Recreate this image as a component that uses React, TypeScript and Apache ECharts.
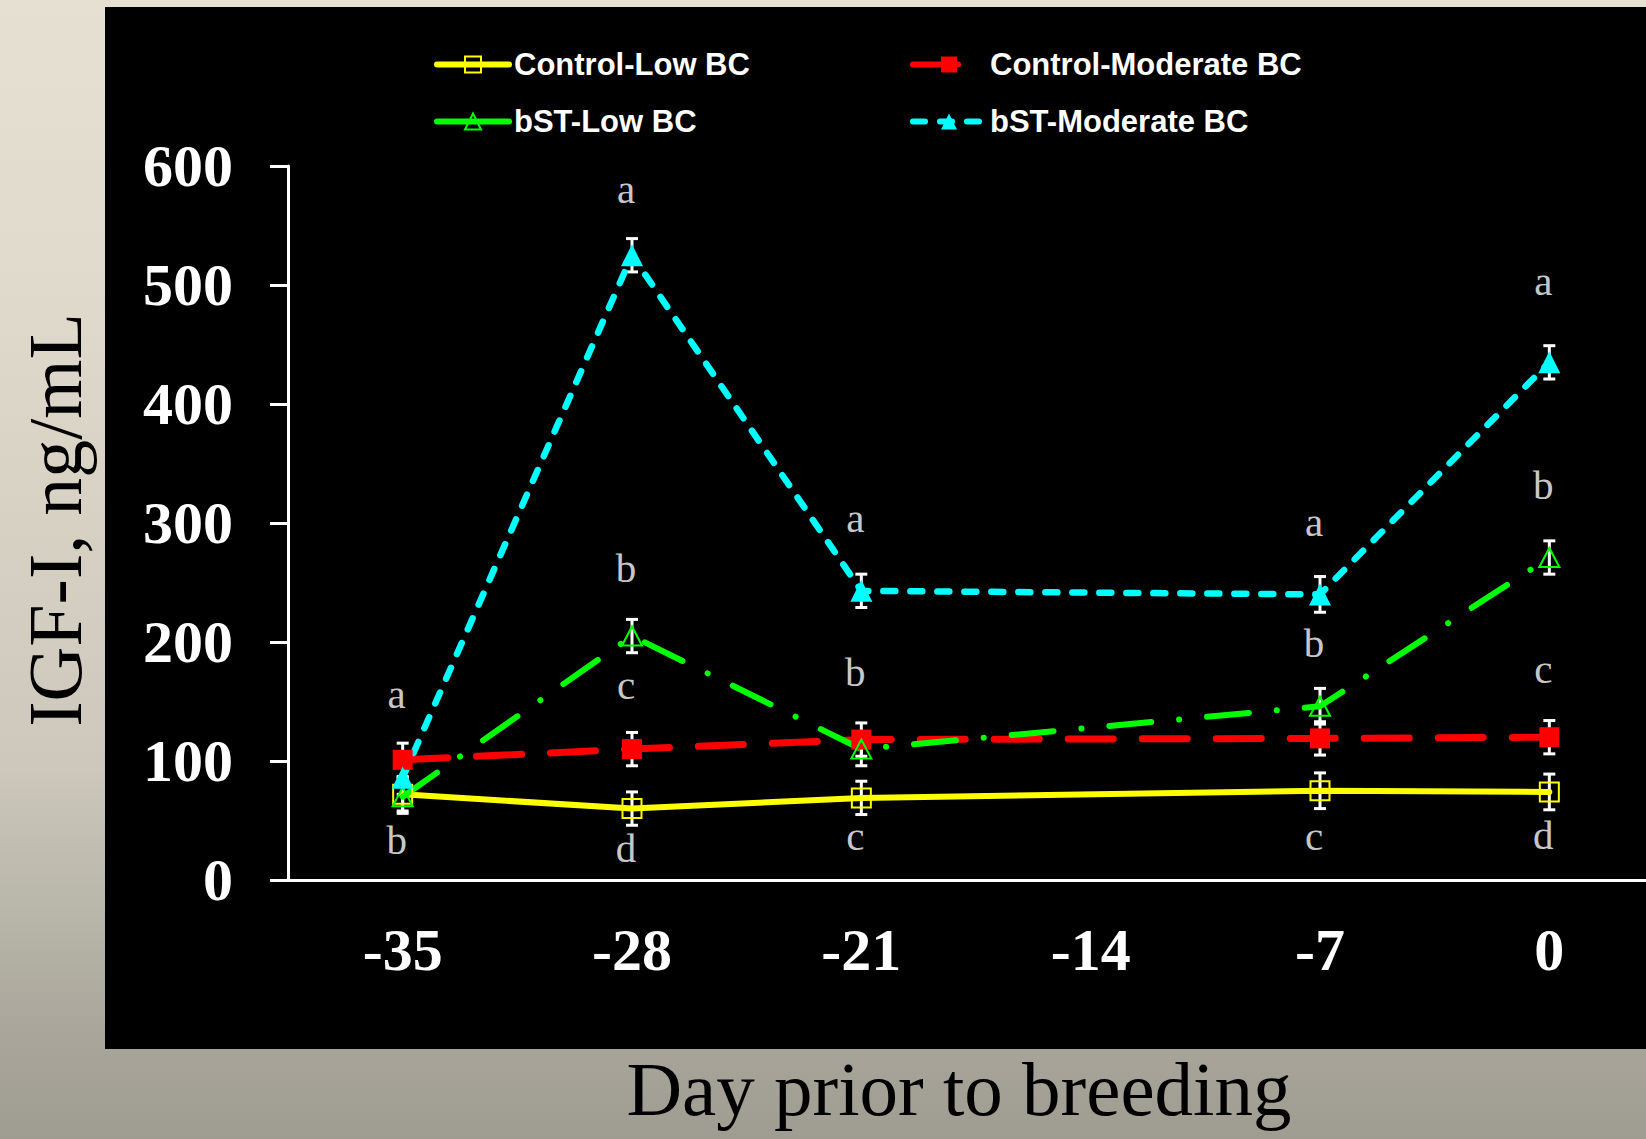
import React, { useEffect, useRef } from "react";
import * as echarts from "echarts";

// Categories (day prior to breeding)
const days = ["-35", "-28", "-21", "-14", "-7", "0"];
const seriesNames = ["Control-Low BC", "Control-Moderate BC", "bST-Low BC", "bST-Moderate BC"];

// IGF-I, ng/mL (means)
const controlLow = [72, 60, 69, null, 75, 74];
const controlModerate = [101, 110, 118, null, 119, 120];
const bstLow = [70, 205, 110, null, 146, 271];
const bstModerate = [86, 525, 243, null, 240, 435];

// error (± SE)
const seControlLow = [14, 14, 14, null, 15, 15];
const seControlModerate = [14, 14, 14, null, 14, 14];
const seBstLow = [14, 14, 14, null, 15, 14];
const seBstModerate = [14, 14, 14, null, 15, 14];

// significance letters: [category index, y position (ng/mL), letter]
const letters: [number, number, string][] = [
  [0, 156, "a"], [0, 34, "b"],
  [1, 581, "a"], [1, 262, "b"], [1, 164, "c"], [1, 27, "d"],
  [2, 304, "a"], [2, 175, "b"], [2, 37, "c"],
  [4, 301, "a"], [4, 199, "b"], [4, 37, "c"],
  [5, 503, "a"], [5, 332, "b"], [5, 177, "c"], [5, 38, "d"],
];

const yMin = 0;
const yMax = 600;
const yInterval = 100;

export default function App() {
  const ref = useRef<HTMLDivElement>(null);

  useEffect(() => {
    if (!ref.current) return;
    const chart = echarts.init(ref.current, undefined, { renderer: "svg" });

    const means = [controlLow, controlModerate, bstLow, bstModerate];
    const ses = [seControlLow, seControlModerate, seBstLow, seBstModerate];
    const errData: number[][] = [];
    means.forEach((arr, s) => {
      arr.forEach((v, i) => {
        const e = ses[s][i];
        if (v != null && e != null) errData.push([i, v - e, v + e]);
      });
    });

    const serif = "'Liberation Serif', 'DejaVu Serif', serif";
    const sans = "'Liberation Sans', Arial, sans-serif";

    const legendText = {
      color: "#ffffff",
      fontFamily: sans,
      fontWeight: "bold" as const,
      fontSize: 31,
      lineHeight: 31,
    };
    const legendBase = {
      orient: "vertical" as const,
      top: 49,
      padding: 0,
      itemGap: 26,
      itemWidth: 72,
      itemHeight: 20,
      textStyle: legendText,
      lineStyle: { width: 6, cap: "round" as const },
    };

    chart.setOption({
      animation: false,
      backgroundColor: "transparent",
      graphic: [
        {
          type: "rect",
          z: -10,
          shape: { x: 105, y: 7, width: 1541, height: 1042 },
          style: { fill: "#000000" },
          silent: true,
        },
        {
          type: "text",
          x: 55,
          y: 520,
          rotation: Math.PI / 2,
          style: {
            text: "IGF-I, ng/mL",
            fill: "#000000",
            font: `76px ${serif}`,
            textAlign: "center",
            textVerticalAlign: "middle",
          },
        },
        {
          type: "text",
          x: 959,
          y: 1089,
          style: {
            text: "Day prior to breeding",
            fill: "#000000",
            font: `77px ${serif}`,
            textAlign: "center",
            textVerticalAlign: "middle",
          },
        },
      ],
      legend: [
        {
          ...legendBase,
          left: 434,
          data: [
            { name: seriesNames[0] },
            { name: seriesNames[2], lineStyle: { type: "solid" } },
          ],
        },
        { ...legendBase, left: 910, data: [{ name: seriesNames[1] }, { name: seriesNames[3] }] },
      ],
      grid: {
        left: 288,
        top: 166,
        height: 714,
        right: -18,
        containLabel: false,
        outerBoundsMode: "none",
      },
      xAxis: {
        type: "category",
        data: days,
        boundaryGap: true,
        axisLine: { show: true, lineStyle: { color: "#ffffff", width: 3 } },
        axisTick: { show: false },
        axisLabel: {
          color: "#ffffff",
          fontFamily: serif,
          fontWeight: "bold",
          fontSize: 60,
          margin: 40,
        },
        splitLine: { show: false },
      },
      yAxis: {
        type: "value",
        min: yMin,
        max: yMax,
        interval: yInterval,
        axisLine: { show: true, lineStyle: { color: "#ffffff", width: 3 } },
        axisTick: { show: true, inside: false, length: 18, lineStyle: { color: "#ffffff", width: 3 } },
        axisLabel: {
          color: "#ffffff",
          fontFamily: serif,
          fontWeight: "bold",
          fontSize: 60,
          margin: 55,
        },
        splitLine: { show: false },
      },
      series: [
        {
          name: "errors",
          type: "custom",
          z: 1,
          silent: true,
          data: errData,
          encode: { x: 0, y: [1, 2] },
          renderItem: (params: any, api: any) => {
            const x = api.value(0);
            const lo = api.coord([x, api.value(1)]);
            const hi = api.coord([x, api.value(2)]);
            const w = 6;
            const style = { stroke: "#ffffff", lineWidth: 3 };
            return {
              type: "group",
              children: [
                { type: "line", shape: { x1: lo[0], y1: lo[1], x2: hi[0], y2: hi[1] }, style },
                { type: "line", shape: { x1: lo[0] - w, y1: lo[1], x2: lo[0] + w, y2: lo[1] }, style },
                { type: "line", shape: { x1: hi[0] - w, y1: hi[1], x2: hi[0] + w, y2: hi[1] }, style },
              ],
            };
          },
        },
        {
          name: seriesNames[0],
          type: "line",
          z: 3,
          data: controlLow,
          connectNulls: true,
          symbol: "rect",
          symbolSize: 19,
          itemStyle: { color: "rgba(0,0,0,0)", borderColor: "#ffff00", borderWidth: 2 },
          lineStyle: { color: "#ffff00", width: 6, type: "solid", cap: "round" },
        },
        {
          name: seriesNames[1],
          type: "line",
          z: 3,
          data: controlModerate,
          connectNulls: true,
          symbol: "rect",
          symbolSize: 20,
          itemStyle: { color: "#ff0000" },
          lineStyle: { color: "#ff0000", width: 7, type: [45, 29], cap: "round" },
        },
        {
          name: seriesNames[2],
          type: "line",
          z: 3,
          data: bstLow,
          connectNulls: true,
          symbol: "triangle",
          symbolSize: [20, 19],
          itemStyle: { color: "rgba(0,0,0,0)", borderColor: "#00ff00", borderWidth: 2 },
          lineStyle: { color: "#00ff00", width: 6, type: [42, 28, 0.1, 28], cap: "round" },
        },
        {
          name: seriesNames[3],
          type: "line",
          z: 3,
          data: bstModerate,
          connectNulls: true,
          symbol: "triangle",
          symbolSize: 22,
          itemStyle: { color: "#00ffff" },
          lineStyle: { color: "#00ffff", width: 6.5, type: [12, 15], cap: "round" },
        },
        {
          name: "letters",
          type: "scatter",
          z: 5,
          silent: true,
          symbol: "circle",
          symbolSize: 1,
          itemStyle: { color: "rgba(0,0,0,0)" },
          data: letters,
          label: {
            show: true,
            position: "inside",
            offset: [-6, 0],
            formatter: (p: any) => p.data[2],
            color: "#ffffff",
            fontFamily: serif,
            fontSize: 41,
          },
        },
      ],
    });

    return () => chart.dispose();
  }, []);

  return (
    <div
      ref={ref}
      style={{
        position: "absolute",
        left: 0,
        top: 0,
        width: 1646,
        height: 1139,
        background:
          "linear-gradient(to bottom, #e6e0d2 0%, #e0dacc 25%, #cdc8bb 67%, #bab7ab 79%, #a9a59a 91%, #9f9c91 100%)",
      }}
    />
  );
}
